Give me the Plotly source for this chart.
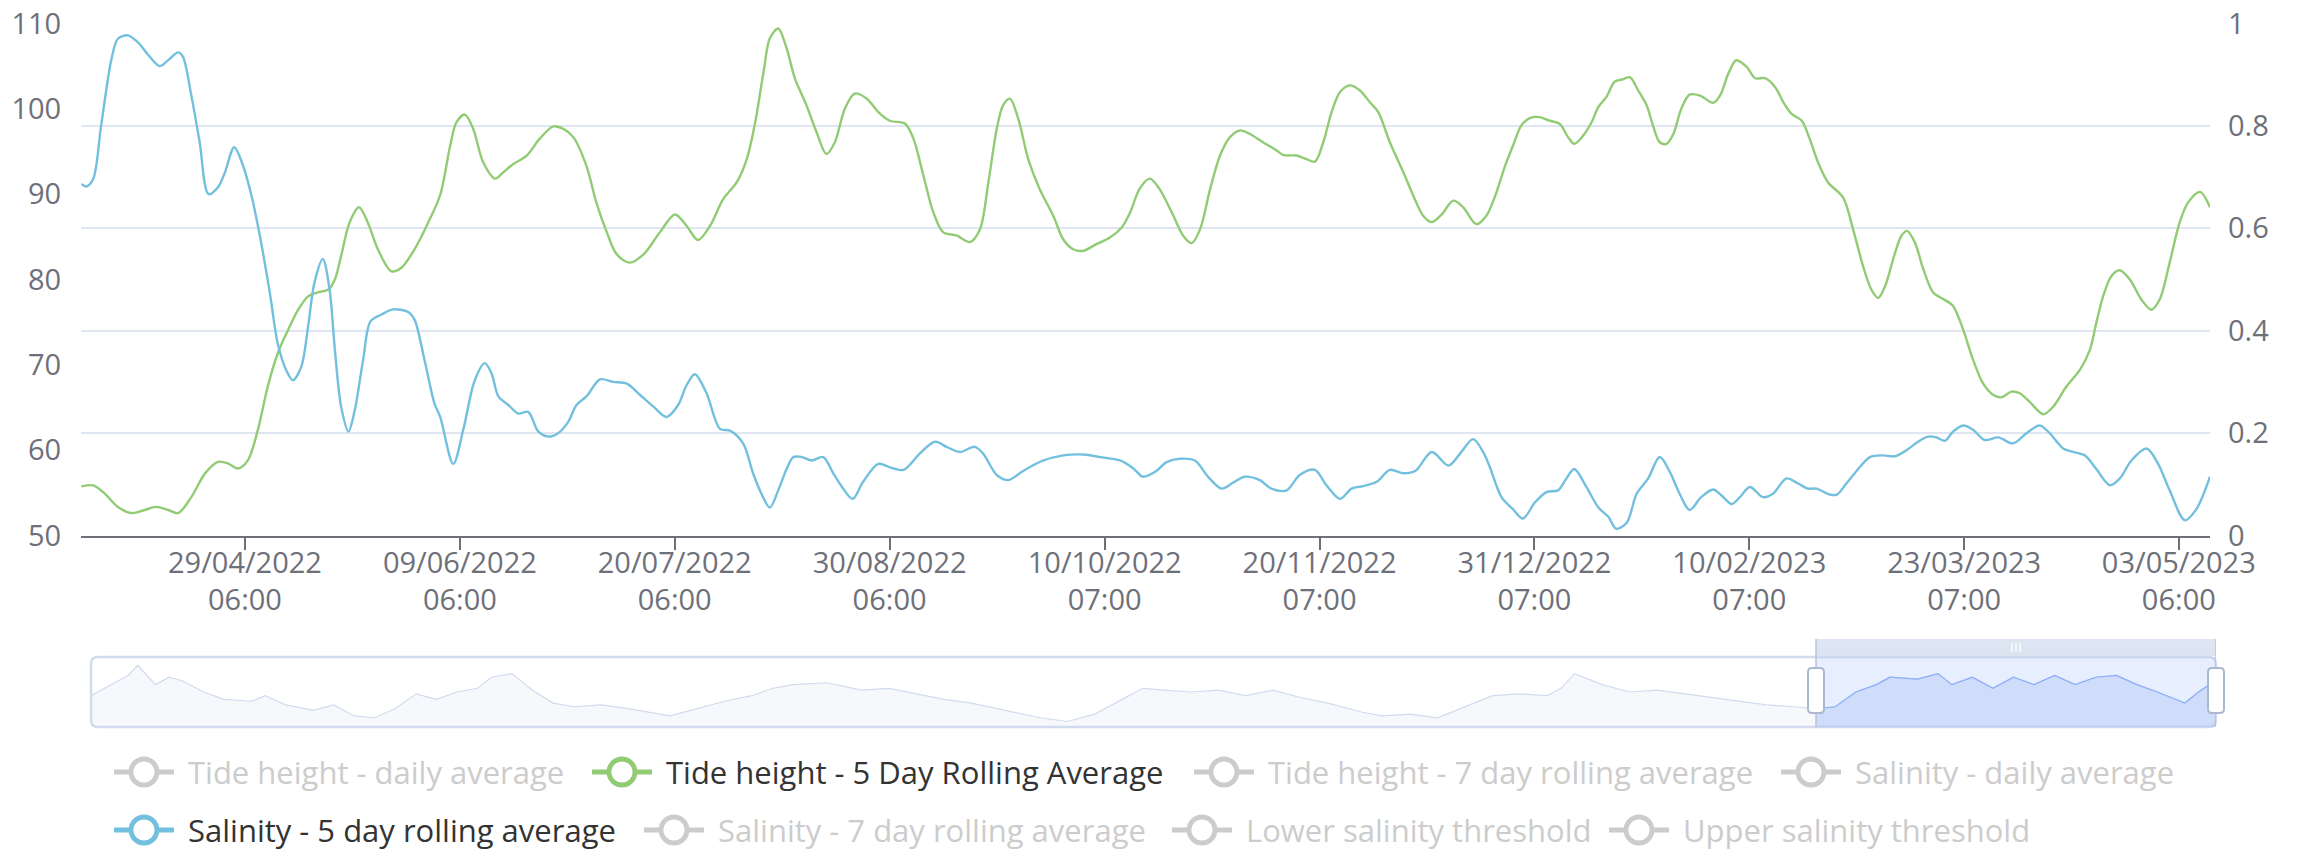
import datetime as dt
import plotly.graph_objects as go

# ---------------- data ----------------
BASE = dt.datetime(2022, 3, 29)          # day 0 of the series
END_DAY = 406.2                           # last data point (days after BASE)

# Tide height - 5 Day Rolling Average (right axis, m)
tide_days = [0.0, 2.3, 4.5, 7.0, 9.6, 12.1, 14.3, 16.6, 18.5, 21.0, 23.6, 26.1, 28.0, 29.9, 31.8, 33.7,
             35.6, 37.5, 39.5, 41.4, 43.3, 45.2, 47.1, 48.4, 49.6, 51.2, 53.0, 54.7, 56.6, 59.2, 61.1,
             63.6, 66.2, 68.5, 70.4, 71.6, 73.2, 74.8, 76.7, 79.0, 80.5, 82.4, 85.0, 87.5, 90.1, 92.0,
             93.9, 96.4, 98.3, 100.3, 102.2, 104.7, 107.3, 110.4, 113.3, 115.5, 117.7, 120.0, 122.5,
             125.1, 127.0, 128.5, 130.2, 131.4, 133.0, 134.5, 136.2, 138.4, 140.3, 142.2, 143.8, 145.7,
             147.6, 149.9, 152.1, 154.3, 157.2, 158.8, 160.7, 162.6, 164.5, 167.0, 169.6, 171.5, 173.1,
             174.7, 175.9, 177.2, 178.8, 180.7, 182.9, 185.5, 187.4, 189.3, 191.2, 193.7, 196.3, 198.5,
             200.1, 202.0, 203.9, 205.8, 208.1, 210.3, 211.9, 213.5, 215.4, 217.3, 219.2, 221.1, 223.0,
             225.5, 228.1, 229.4, 231.9, 233.8, 235.4, 237.0, 238.6, 240.2, 242.1, 244.0, 245.9, 247.5,
             249.7, 252.3, 254.2, 256.1, 257.7, 259.6, 261.8, 263.7, 266.2, 268.1, 269.8, 271.7, 273.2,
             274.8, 276.4, 278.3, 280.2, 282.1, 283.7, 284.9, 286.6, 288.2, 289.5, 291.0, 292.6, 294.2,
             295.5, 297.1, 298.7, 299.9, 301.2, 302.5, 303.8, 305.3, 306.9, 308.9, 311.4, 312.7, 314.3,
             315.8, 317.8, 319.4, 321.3, 323.2, 324.8, 326.3, 328.3, 329.8, 331.4, 333.3, 336.2, 338.1,
             340.0, 341.6, 342.9, 344.2, 346.1, 347.3, 348.4, 349.9, 351.5, 353.4, 355.3, 357.2, 359.1,
             361.0, 362.9, 364.8, 366.4, 368.3, 369.9, 371.8, 374.4, 376.3, 378.8, 381.4, 383.3, 384.5,
             385.8, 387.4, 389.0, 390.9, 393.1, 395.0, 396.6, 398.5, 400.4, 402.0, 404.3, 406.2]
tide_5day = [0.096, 0.098, 0.082, 0.056, 0.044, 0.050, 0.056, 0.050, 0.044, 0.075, 0.121, 0.144, 0.141,
             0.131, 0.147, 0.206, 0.291, 0.356, 0.402, 0.441, 0.467, 0.475, 0.480, 0.500, 0.546, 0.611,
             0.641, 0.611, 0.559, 0.516, 0.523, 0.559, 0.611, 0.665, 0.761, 0.807, 0.822, 0.794, 0.729,
             0.697, 0.709, 0.725, 0.742, 0.775, 0.799, 0.794, 0.778, 0.722, 0.650, 0.592, 0.549, 0.533,
             0.549, 0.592, 0.627, 0.605, 0.577, 0.605, 0.657, 0.690, 0.735, 0.801, 0.905, 0.971, 0.990,
             0.955, 0.892, 0.840, 0.788, 0.745, 0.768, 0.833, 0.863, 0.853, 0.827, 0.810, 0.804, 0.775,
             0.703, 0.631, 0.592, 0.586, 0.573, 0.598, 0.690, 0.794, 0.840, 0.853, 0.814, 0.735, 0.676,
             0.624, 0.578, 0.559, 0.556, 0.569, 0.582, 0.601, 0.630, 0.678, 0.697, 0.676, 0.631, 0.585,
             0.571, 0.598, 0.676, 0.742, 0.778, 0.791, 0.784, 0.768, 0.752, 0.743, 0.742, 0.735, 0.730,
             0.768, 0.827, 0.866, 0.879, 0.869, 0.846, 0.827, 0.768, 0.709, 0.663, 0.624, 0.612, 0.627,
             0.654, 0.641, 0.608, 0.624, 0.663, 0.722, 0.761, 0.801, 0.815, 0.817, 0.810, 0.804, 0.778,
             0.765, 0.781, 0.807, 0.837, 0.856, 0.886, 0.891, 0.895, 0.869, 0.840, 0.801, 0.768, 0.765,
             0.784, 0.833, 0.861, 0.859, 0.845, 0.859, 0.902, 0.928, 0.915, 0.893, 0.893, 0.876, 0.846,
             0.824, 0.810, 0.775, 0.729, 0.690, 0.660, 0.598, 0.526, 0.480, 0.464, 0.487, 0.552, 0.585,
             0.595, 0.572, 0.520, 0.474, 0.462, 0.448, 0.402, 0.343, 0.297, 0.275, 0.270, 0.281, 0.278,
             0.261, 0.237, 0.252, 0.291, 0.324, 0.363, 0.415, 0.467, 0.507, 0.518, 0.500, 0.461, 0.441,
             0.461, 0.533, 0.611, 0.650, 0.671, 0.641]

# Salinity - 5 day rolling average (left axis)
sal_days = [0.0, 1.0, 2.3, 3.8, 5.8, 7.0, 8.9, 10.8, 12.8, 15.0, 16.6, 18.5, 19.4, 21.0, 22.6, 24.3, 26.1,
            27.4, 29.2, 30.9, 32.5, 34.1, 36.0, 37.5, 39.1, 40.4, 42.0, 43.3, 44.5, 46.1, 47.4, 48.4,
            49.6, 51.0, 52.2, 53.8, 55.2, 57.3, 59.5, 62.4, 63.6, 65.5, 67.4, 68.5, 71.0, 72.9, 75.1,
            77.0, 78.3, 79.6, 81.5, 83.4, 85.3, 87.2, 89.1, 91.0, 92.9, 94.5, 96.4, 99.0, 101.5, 104.1,
            106.6, 109.2, 111.7, 113.9, 115.5, 117.1, 119.3, 121.9, 123.8, 126.3, 128.2, 129.8, 131.4,
            133.0, 134.6, 135.9, 137.5, 139.4, 141.6, 143.5, 145.4, 147.2, 149.2, 152.1, 154.3, 156.9,
            160.0, 162.9, 165.1, 167.7, 170.5, 172.1, 174.7, 176.9, 179.8, 183.6, 187.4, 191.2, 194.4,
            198.2, 200.7, 202.6, 205.0, 207.1, 209.6, 212.5, 215.0, 217.6, 219.8, 222.0, 224.9, 227.1,
            230.0, 232.5, 235.4, 237.6, 240.2, 242.4, 244.6, 247.2, 249.7, 252.3, 254.6, 257.7, 260.9,
            263.1, 265.6, 267.5, 268.8, 271.0, 273.2, 275.1, 277.4, 279.6, 281.8, 283.4, 284.9, 287.2,
            289.5, 291.4, 292.9, 294.9, 296.8, 299.0, 301.2, 303.1, 305.0, 306.9, 309.1, 311.4, 313.0,
            314.9, 316.5, 318.4, 320.9, 322.8, 325.4, 327.6, 329.5, 331.1, 333.7, 335.0, 336.8, 338.8,
            341.3, 343.8, 346.1, 348.3, 350.5, 352.4, 354.0, 355.6, 357.2, 359.1, 361.0, 363.2, 365.8,
            368.6, 371.2, 373.7, 375.6, 378.2, 380.1, 382.3, 384.5, 387.1, 389.0, 391.2, 394.1, 396.3,
            398.5, 401.4, 403.6, 406.2]
sal_5day = [91.2, 90.9, 91.8, 98.0, 105.9, 108.2, 108.6, 107.8, 106.3, 105.0, 105.7, 106.6, 106.1, 101.6,
            96.1, 90.0, 90.8, 92.5, 95.5, 93.3, 89.8, 85.1, 78.4, 72.5, 69.4, 68.2, 69.8, 74.5, 79.6,
            82.4, 78.8, 71.8, 65.1, 62.2, 64.7, 70.6, 75.1, 75.9, 76.5, 76.2, 75.3, 70.6, 65.5, 63.9,
            58.4, 62.4, 68.2, 70.2, 69.0, 66.3, 65.3, 64.3, 64.5, 62.2, 61.6, 62.0, 63.3, 65.3, 66.3,
            68.3, 68.0, 67.8, 66.5, 65.1, 63.9, 65.3, 67.6, 68.9, 66.7, 62.5, 62.3, 60.8, 57.3, 54.9,
            53.3, 55.3, 57.8, 59.2, 59.2, 58.8, 59.2, 57.3, 55.5, 54.3, 56.3, 58.4, 58.0, 57.7, 59.6,
            61.0, 60.4, 59.8, 60.4, 59.6, 57.1, 56.5, 57.6, 58.8, 59.4, 59.5, 59.2, 58.8, 57.9, 56.9,
            57.5, 58.6, 59.0, 58.8, 56.9, 55.5, 56.2, 56.9, 56.5, 55.5, 55.3, 57.1, 57.7, 55.9, 54.3,
            55.5, 55.8, 56.3, 57.7, 57.3, 57.6, 59.8, 58.2, 59.6, 61.3, 59.8, 58.0, 54.5, 53.1, 52.0,
            53.9, 55.1, 55.3, 56.7, 57.8, 55.7, 53.3, 52.2, 50.8, 51.5, 54.9, 56.7, 59.2, 57.5, 54.9,
            53.0, 54.5, 55.4, 54.7, 53.7, 54.5, 55.7, 54.5, 54.9, 56.7, 56.1, 55.5, 55.5, 54.8, 54.8,
            56.1, 57.6, 59.2, 59.4, 59.3, 60.0, 61.0, 61.6, 61.5, 61.1, 62.2, 62.9, 62.4, 61.2, 61.5,
            60.8, 62.0, 62.9, 62.0, 60.2, 59.8, 59.4, 57.8, 55.9, 56.7, 58.8, 60.2, 58.4, 55.3, 51.8,
            53.1, 56.9]

# x axis ticks
tick_dates = ["2022-04-29 06:00", "2022-06-09 06:00", "2022-07-20 06:00", "2022-08-30 06:00",
              "2022-10-10 07:00", "2022-11-20 07:00", "2022-12-31 07:00", "2023-02-10 07:00",
              "2023-03-23 07:00", "2023-05-03 06:00"]
tick_day_labels = ["29/04/2022", "09/06/2022", "20/07/2022", "30/08/2022", "10/10/2022",
                   "20/11/2022", "31/12/2022", "10/02/2023", "23/03/2023", "03/05/2023"]
tick_time_labels = ["06:00", "06:00", "06:00", "06:00", "07:00", "07:00", "07:00", "07:00", "07:00", "06:00"]

# data-zoom overview (tide height, daily; relative level within the slider box)
overview_days = [-1751.8, -1735.1, -1714.2, -1704.4, -1686.3, -1672.4, -1658.5, -1637.6, -1616.7, -1588.8,
                 -1574.9, -1554.0, -1526.2, -1505.3, -1484.4, -1463.5, -1442.6, -1421.7, -1400.8, -1380.0,
                 -1359.1, -1345.1, -1324.3, -1303.4, -1282.5, -1261.6, -1233.7, -1205.9, -1164.1, -1136.3,
                 -1108.4, -1080.6, -1059.7, -1038.8, -1004.0, -969.2, -941.3, -913.5, -885.6, -857.8,
                 -823.0, -788.1, -760.3, -732.4, -704.6, -683.7, -662.8, -635.0, -607.1, -579.3, -551.4,
                 -523.6, -495.7, -460.9, -440.0, -412.2, -384.3, -356.5, -328.6, -300.8, -272.9, -259.0,
                 -245.1, -217.2, -189.4, -161.5, -133.7, -105.8, -78.0, -50.1, -22.3, -1.4, 19.5, 40.4,
                 61.3, 75.2, 103.1, 123.9, 137.9, 158.8, 179.6, 200.5, 221.4, 242.3, 263.2, 284.1, 305.0,
                 325.9, 346.7, 374.6, 388.5, 402.4, 406.2]
overview_level = [0.447, 0.579, 0.737, 0.879, 0.605, 0.711, 0.658, 0.500, 0.395, 0.368, 0.447, 0.316,
                  0.237, 0.316, 0.158, 0.132, 0.263, 0.474, 0.395, 0.500, 0.553, 0.711, 0.763, 0.526,
                  0.342, 0.289, 0.316, 0.263, 0.158, 0.263, 0.368, 0.447, 0.553, 0.605, 0.632, 0.526,
                  0.553, 0.474, 0.395, 0.342, 0.237, 0.132, 0.079, 0.184, 0.395, 0.553, 0.526, 0.500,
                  0.526, 0.447, 0.526, 0.421, 0.342, 0.211, 0.158, 0.184, 0.132, 0.289, 0.447, 0.474,
                  0.447, 0.553, 0.763, 0.605, 0.500, 0.526, 0.474, 0.421, 0.368, 0.316, 0.289, 0.263,
                  0.289, 0.500, 0.605, 0.711, 0.684, 0.763, 0.605, 0.711, 0.553, 0.711, 0.605, 0.737,
                  0.605, 0.711, 0.737, 0.605, 0.500, 0.342, 0.500, 0.632, 0.600]

legend_labels = ["Tide height - daily average", "Tide height - 5 Day Rolling Average",
                 "Tide height - 7 day rolling average", "Salinity - daily average",
                 "Salinity - 5 day rolling average", "Salinity - 7 day rolling average",
                 "Lower salinity threshold", "Upper salinity threshold"]
legend_colors = ["#cccccc", "#91cc75", "#cccccc", "#cccccc", "#73c0de", "#cccccc", "#cccccc", "#cccccc"]
legend_active = [False, True, False, False, True, False, False, False]

# ---------------- layout geometry (pixels) ----------------
W, H = 2302, 850
PL, PR, PT, PB = 81.2, 2210.0, 23.4, 535.6
SL, SR, ST, SB = 91.0, 2216.0, 657.0, 727.0
FONT = "Open Sans"
FS = 29
LEG_FS = 31
AXIS_C = "#6E7079"


def X(px):
    return px / W


def Y(py):
    return 1 - py / H


def to_dates(days):
    return [BASE + dt.timedelta(days=d) for d in days]


def rrect(x0, y0, x1, y1, r):
    return (f"M {X(x0 + r)},{Y(y0)} L {X(x1 - r)},{Y(y0)} Q {X(x1)},{Y(y0)} {X(x1)},{Y(y0 + r)} "
            f"L {X(x1)},{Y(y1 - r)} Q {X(x1)},{Y(y1)} {X(x1 - r)},{Y(y1)} "
            f"L {X(x0 + r)},{Y(y1)} Q {X(x0)},{Y(y1)} {X(x0)},{Y(y1 - r)} "
            f"L {X(x0)},{Y(y0 + r)} Q {X(x0)},{Y(y0)} {X(x0 + r)},{Y(y0)} Z")


fig = go.Figure()

fig.add_trace(go.Scatter(
    x=to_dates(tide_days), y=tide_5day, mode="lines", name=legend_labels[1],
    line=dict(color="#91cc75", width=2.4, shape="spline", smoothing=0.9),
    xaxis="x", yaxis="y", showlegend=False, hoverinfo="skip"))
fig.add_trace(go.Scatter(
    x=to_dates(sal_days), y=sal_5day, mode="lines", name=legend_labels[4],
    line=dict(color="#73c0de", width=2.4, shape="spline", smoothing=0.9),
    xaxis="x", yaxis="y2", showlegend=False, hoverinfo="skip"))

# overview in the data-zoom slider
fig.add_trace(go.Scatter(
    x=to_dates(overview_days), y=overview_level, mode="lines", fill="tozeroy",
    line=dict(color="#d2dbee", width=1.2), fillcolor="rgba(210,219,238,0.2)",
    xaxis="x3", yaxis="y3", showlegend=False, hoverinfo="skip"))
sel_days = [d for d in overview_days if d >= 0]
sel_level = [v for d, v in zip(overview_days, overview_level) if d >= 0]
fig.add_trace(go.Scatter(
    x=to_dates([0.0] + sel_days), y=[overview_level[overview_days.index(-1.4)]] + sel_level,
    mode="lines", fill="tozeroy",
    line=dict(color="#8fb0f7", width=1.2), fillcolor="rgba(143,176,247,0.2)",
    xaxis="x3", yaxis="y3", showlegend=False, hoverinfo="skip"))

end_date = BASE + dt.timedelta(days=END_DAY)
shapes = []
annotations = []

# slider box
shapes.append(dict(type="path", path=rrect(SL, ST, SR, SB, 7), xref="paper", yref="paper",
                   line=dict(color="#d2dbee", width=2.4), fillcolor="rgba(0,0,0,0)", layer="below"))
# selected window
shapes.append(dict(type="rect", xref="x3", yref="paper", x0=BASE, x1=end_date, y0=Y(SB), y1=Y(ST),
                   fillcolor="rgba(135,175,255,0.2)", line=dict(width=0), layer="above"))
shapes.append(dict(type="rect", xref="x3", yref="paper", x0=BASE, x1=end_date, y0=Y(656), y1=Y(639),
                   fillcolor="rgba(210,219,238,0.75)", line=dict(width=0), layer="above"))
for xd in (BASE, end_date):
    shapes.append(dict(type="line", xref="x3", yref="paper", x0=xd, x1=xd, y0=Y(SB), y1=Y(639),
                       line=dict(color="#b3c0dd", width=1.4), layer="above"))
for cx in (1816, 2216):
    shapes.append(dict(type="path", path=rrect(cx - 8, 668, cx + 8, 713, 4), xref="paper", yref="paper",
                       line=dict(color="#ACB8D1", width=2), fillcolor="#ffffff", layer="above"))
for gx in (2012, 2016, 2020):
    shapes.append(dict(type="line", xref="paper", yref="paper", x0=X(gx), x1=X(gx), y0=Y(652), y1=Y(643),
                       line=dict(color="#ffffff", width=1.4), layer="above"))

# legend (icons + text)
legend_pos = [(114, 772), (592, 772), (1194, 772), (1781, 772),
              (114, 830), (644, 830), (1172, 830), (1609, 830)]
for lab, col, act, (lx, ly) in zip(legend_labels, legend_colors, legend_active, legend_pos):
    shapes.append(dict(type="line", xref="paper", yref="paper", x0=X(lx), x1=X(lx + 60), y0=Y(ly), y1=Y(ly),
                       line=dict(color=col, width=4.8), layer="above"))
    cx = lx + 30
    shapes.append(dict(type="circle", xref="paper", yref="paper", x0=X(cx - 13), x1=X(cx + 13),
                       y0=Y(ly + 13), y1=Y(ly - 13), line=dict(color=col, width=4.8),
                       fillcolor="#ffffff", layer="above"))
    annotations.append(dict(x=X(lx + 72), xref="paper", y=Y(ly), yref="paper", text=lab, showarrow=False,
                            xanchor="left", yanchor="middle",
                            font=dict(family=FONT, size=LEG_FS, color="#333333" if act else "#cccccc")))

fig.update_layout(
    width=W, height=H, autosize=False,
    margin=dict(l=0, r=0, t=0, b=0, pad=0, autoexpand=False),
    paper_bgcolor="#ffffff", plot_bgcolor="#ffffff",
    showlegend=False,
    font=dict(family=FONT, size=FS, color=AXIS_C),
    xaxis=dict(domain=[X(PL), X(PR)], anchor="y", type="date", range=[BASE, end_date],
               tickvals=tick_dates,
               ticktext=[f"{a}<br>{b}" for a, b in zip(tick_day_labels, tick_time_labels)],
               tickfont=dict(family=FONT, size=FS, color=AXIS_C), ticklabelstandoff=-12,
               ticks="outside", ticklen=12, tickwidth=2.4,
               tickcolor=AXIS_C, showline=True, linecolor=AXIS_C, linewidth=2.4,
               showgrid=False, zeroline=False, automargin=False),
    yaxis=dict(domain=[Y(PB), Y(PT)], anchor="x", side="right", range=[0, 1], tick0=0, dtick=0.2,
               showgrid=True, gridcolor="#E0E6F1", gridwidth=2.4, zeroline=False, showline=False,
               ticks="", ticklabelstandoff=17, automargin=False,
               tickfont=dict(family=FONT, size=FS, color=AXIS_C)),
    yaxis2=dict(overlaying="y", anchor="x", side="left", range=[50, 110], tick0=50, dtick=10,
                showgrid=False, zeroline=False, showline=False, ticks="", ticklabelstandoff=19,
                automargin=False, tickfont=dict(family=FONT, size=FS, color=AXIS_C)),
    xaxis3=dict(domain=[X(SL), X(SR)], anchor="y3", type="date", automargin=False,
                range=[BASE + dt.timedelta(days=overview_days[0]), end_date], visible=False),
    yaxis3=dict(domain=[Y(SB), Y(ST)], anchor="x3", range=[0, 1], visible=False, automargin=False),
    shapes=shapes,
    annotations=annotations,
)

fig.write_html("out.html", config={"displayModeBar": False},
               post_script="document.body.style.margin='0px';")
